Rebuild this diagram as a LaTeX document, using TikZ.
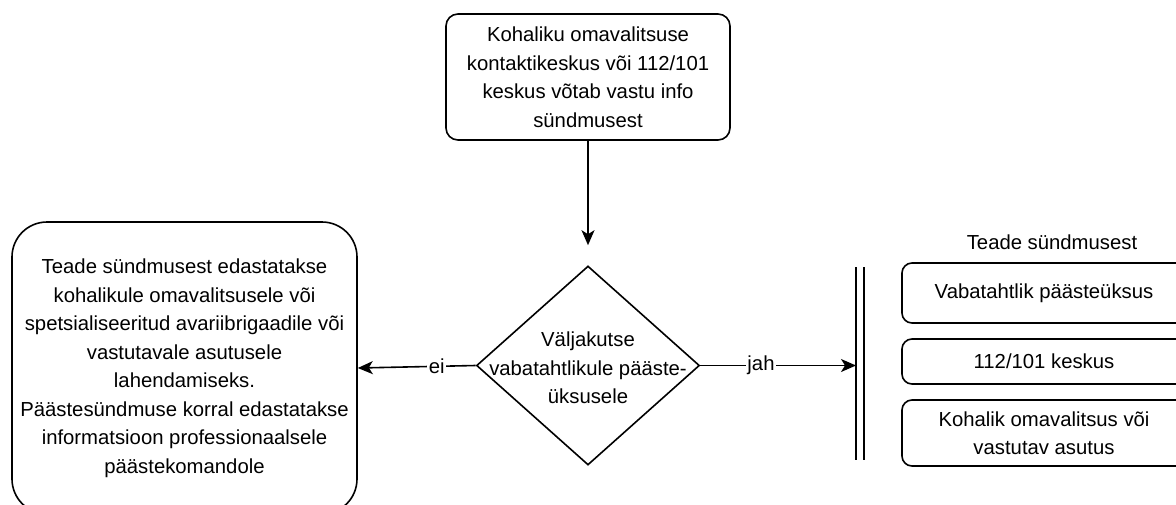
\documentclass[tikz,border=0pt]{standalone}
\usepackage{fontspec}
\setmainfont{Liberation Sans}
\usetikzlibrary{shapes.geometric,arrows.meta}
\begin{document}
\begin{tikzpicture}[x=1pt,y=-1pt, line width=1.6pt,
  box/.style={draw, rounded corners=#1, inner sep=0pt, align=center,
    font=\fontsize{20.3}{28.5}\selectfont},
  txt/.style={inner sep=0pt, align=center, font=\fontsize{20.3}{28.5}\selectfont},
  arr/.style={-{Stealth[length=15pt,width=13pt,inset=4pt]}},
  lbl/.style={fill=white, inner sep=1.5pt, font=\fontsize{20.3}{24}\selectfont}]
\clip (0,0) rectangle (1176,504);
\useasboundingbox (0,0) rectangle (1176,504);

% top box
\node[box=12pt, minimum width=284, minimum height=126] (top) at (588,77)
  {Kohaliku omavalitsuse\\kontaktikeskus või 112/101\\keskus võtab vastu info\\sündmusest};

% diamond
\node[diamond, draw, minimum width=223, minimum height=199, inner sep=0pt] (dia) at (588,365.5) {};
\node[txt] (diatxt) at (588,368) {Väljakutse\\vabatahtlikule pääste-\\üksusele};

% left box
\node[box=35pt, minimum width=345, minimum height=292] (left) at (184.5,368)
  {Teade sündmusest edastatakse\\kohalikule omavalitsusele või\\spetsialiseeritud avariibrigaadile või\\vastutavale asutusele\\lahendamiseks.\\Päästesündmuse korral edastatakse\\informatsioon professionaalsele\\päästekomandole};

% double bar
\coordinate (barA1) at (856,267);
\coordinate (barA2) at (856,460);
\coordinate (barB1) at (864,267);
\coordinate (barB2) at (864,460);
\coordinate (bar) at (856,365.5);
\draw (barA1) -- (barA2);
\draw (barB1) -- (barB2);

% right label
\node[txt] (rlabel) at (1052,242) {Teade sündmusest};

% right boxes
\node[box=10pt, minimum width=284, minimum height=60] (r1) at (1044,293) {Vabatahtlik päästeüksus};
\node[box=10pt, minimum width=284, minimum height=45] (r2) at (1044,361.5) {112/101 keskus};
\node[box=10pt, minimum width=284, minimum height=66] (r3) at (1044,433) {Kohalik omavalitsus või\\vastutav asutus};

% connectors
\draw[arr, shorten >=20pt] (top.south) -- (dia.north);
\draw[arr] (dia.west) -- node[lbl, pos=0.33] (ei) {ei} (left.east);
\draw[arr] (dia.east) -- node[lbl, pos=0.39] (jah) {jah} (bar);
\end{tikzpicture}
\end{document}
